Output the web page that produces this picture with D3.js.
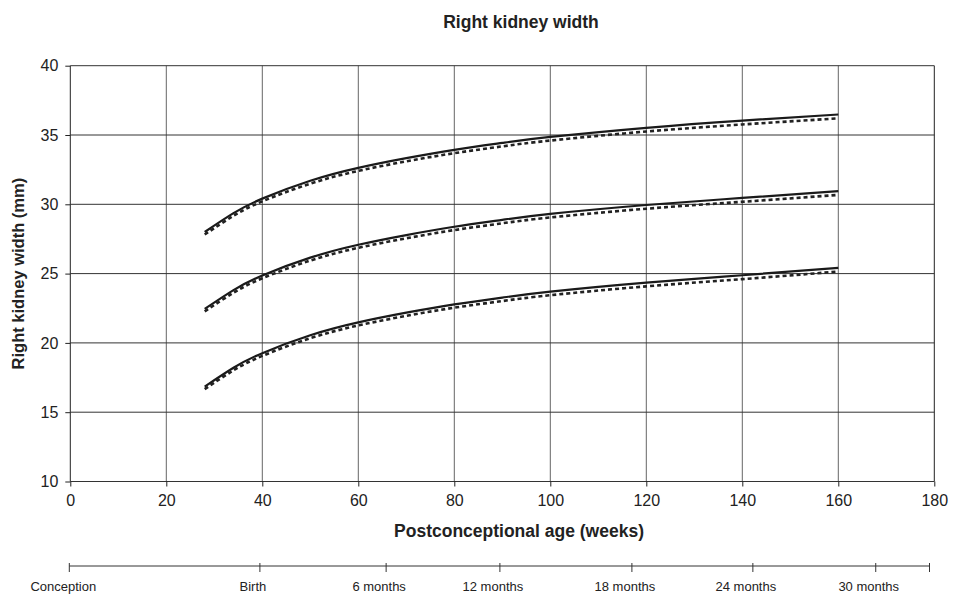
<!DOCTYPE html>
<html>
<head>
<meta charset="utf-8">
<script src="https://cdn.jsdelivr.net/npm/d3@7"></script>
<style>
  body { margin: 0; background: #fff; }
  text { font-family: "Liberation Sans", Arial, sans-serif; fill: #222; }
</style>
</head>
<body>
<div id="chart"></div>
<script>
var weeks = [28, 34, 40, 50, 60, 70, 80, 90, 100, 120, 140, 160];

// solid lines (upper, middle, lower)
var upperSolid  = [28.0, 29.36, 30.41, 31.70, 32.63, 33.33, 33.93, 34.43, 34.86, 35.52, 36.04, 36.48];
var middleSolid = [22.45, 23.81, 24.86, 26.15, 27.08, 27.78, 28.38, 28.88, 29.31, 29.95, 30.46, 30.95];
var lowerSolid  = [16.85, 18.21, 19.26, 20.55, 21.48, 22.18, 22.78, 23.27, 23.7, 24.35, 24.88, 25.42];

// dashed lines, slightly below
var upperDash  = [27.82, 29.17, 30.21, 31.49, 32.41, 33.1, 33.69, 34.18, 34.6, 35.25, 35.76, 36.2];
var middleDash = [22.27, 23.62, 24.66, 25.94, 26.86, 27.55, 28.14, 28.63, 29.05, 29.68, 30.18, 30.68];
var lowerDash  = [16.67, 18.02, 19.06, 20.34, 21.26, 21.95, 22.54, 23.02, 23.44, 24.08, 24.6, 25.15];

var xTicks = [0, 20, 40, 60, 80, 100, 120, 140, 160, 180];
var yTicks = [10, 15, 20, 25, 30, 35, 40];

// second time line under the chart (positions in weeks)
var timeWeeks  = [0, 39.5, 65.8, 89.5, 117, 142.2, 167.8];
var timeLabels = ["Conception", "Birth", "6 months", "12 months", "18 months", "24 months", "30 months"];
var timeEnd = 179;

var width = 954, height = 598;
var margin = {left: 70.3, right: 19.7, top: 65.7, bottom: 116.5};

var svg = d3.select("#chart")
    .append("svg")
    .attr("width", width)
    .attr("height", height);

var x = d3.scaleLinear().domain([0, 180]).range([margin.left, width - margin.right]);
var y = d3.scaleLinear().domain([10, 40]).range([height - margin.bottom, margin.top]);

// vertical grid
svg.append("g")
    .selectAll("line")
    .data(xTicks)
    .enter()
        .append("line")
        .attr("x1", function(d){ return x(d); })
        .attr("x2", function(d){ return x(d); })
        .attr("y1", y(10))
        .attr("y2", y(40))
        .attr("stroke", function(d){ return (d === 0 || d === 180) ? "#222" : "#666"; })
        .attr("stroke-width", 1);

// horizontal grid
svg.append("g")
    .selectAll("line")
    .data(yTicks)
    .enter()
        .append("line")
        .attr("x1", x(0))
        .attr("x2", x(180))
        .attr("y1", function(d){ return y(d); })
        .attr("y2", function(d){ return y(d); })
        .attr("stroke", "#333")
        .attr("stroke-width", 1);

// axes
var yAxis = svg.append("g")
    .attr("transform", "translate(" + x(0) + ",0)")
    .call(d3.axisLeft(y).tickValues(yTicks).tickSize(5).tickPadding(7));
var xAxis = svg.append("g")
    .attr("transform", "translate(0," + y(10) + ")")
    .call(d3.axisBottom(x).tickValues(xTicks).tickSize(5).tickPadding(8));

[yAxis, xAxis].forEach(function(a){
    a.select(".domain").remove();
    a.selectAll("line").attr("stroke", "#222");
    a.selectAll("text").attr("font-size", "16px").attr("fill", "#222")
        .attr("font-family", "\"Liberation Sans\", Arial, sans-serif");
});

// curves
var line = d3.line()
    .x(function(d){ return x(d[0]); })
    .y(function(d){ return y(d[1]); })
    .curve(d3.curveNatural);

function zipWeeks(vals){
    return weeks.map(function(w, i){ return [w, vals[i]]; });
}

[upperDash, middleDash, lowerDash].forEach(function(s){
    svg.append("path")
        .attr("d", line(zipWeeks(s)))
        .attr("fill", "none")
        .attr("stroke", "#222")
        .attr("stroke-width", 2.6)
        .attr("stroke-dasharray", "4,3");
});
[upperSolid, middleSolid, lowerSolid].forEach(function(s){
    svg.append("path")
        .attr("d", line(zipWeeks(s)))
        .attr("fill", "none")
        .attr("stroke", "#1a1a1a")
        .attr("stroke-width", 2.2);
});

// titles
svg.append("text")
    .attr("x", 521)
    .attr("y", 28)
    .attr("text-anchor", "middle")
    .attr("font-size", "17.5px")
    .attr("font-weight", "bold")
    .text("Right kidney width");

svg.append("text")
    .attr("x", 519)
    .attr("y", 537)
    .attr("text-anchor", "middle")
    .attr("font-size", "17.5px")
    .attr("font-weight", "bold")
    .text("Postconceptional age (weeks)");

svg.append("text")
    .attr("transform", "translate(24," + ((y(10) + y(40)) / 2) + ") rotate(-90)")
    .attr("text-anchor", "middle")
    .attr("font-size", "16.5px")
    .attr("font-weight", "bold")
    .text("Right kidney width (mm)");

// time line under the chart
var tl = svg.append("g").attr("transform", "translate(0,566)");
tl.append("line")
    .attr("x1", x(0) - 1)
    .attr("x2", x(timeEnd))
    .attr("y1", 0)
    .attr("y2", 0)
    .attr("stroke", "#333")
    .attr("stroke-width", 1);
tl.selectAll(".tk")
    .data(timeWeeks.concat([timeEnd]))
    .enter()
        .append("line")
        .attr("class", "tk")
        .attr("x1", function(d){ return x(d) - (d === 0 ? 1 : 0); })
        .attr("x2", function(d){ return x(d) - (d === 0 ? 1 : 0); })
        .attr("y1", -3)
        .attr("y2", 6)
        .attr("stroke", "#333")
        .attr("stroke-width", 1);
tl.selectAll(".lb")
    .data(timeLabels)
    .enter()
        .append("text")
        .attr("class", "lb")
        .attr("x", function(d, i){ return x(timeWeeks[i]) - 7; })
        .attr("y", 25)
        .attr("text-anchor", "middle")
        .attr("font-size", "13px")
        .attr("font-family", "\"Liberation Sans Narrow\", \"Arial Narrow\", sans-serif")
        .text(function(d){ return d; });
</script>
</body>
</html>
